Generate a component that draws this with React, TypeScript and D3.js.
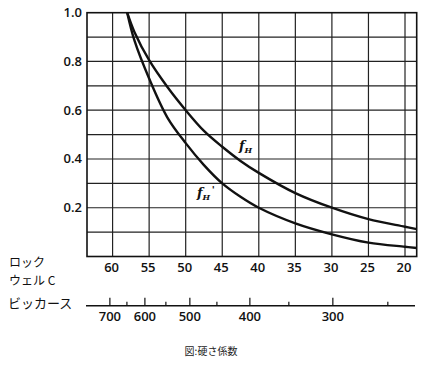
import React, { useEffect, useRef } from "react";
import * as d3 from "d3";

// Rockwell C hardness where the curves were read
const hrc = [58, 57, 55, 52.5, 50, 47.5, 45, 42.5, 40, 35, 30, 25, 20, 18.4];
// hardness factor f_H
const fH = [1.0, 0.92, 0.805, 0.695, 0.6, 0.515, 0.45, 0.392, 0.343, 0.26, 0.2, 0.153, 0.122, 0.112];
// hardness factor f_H'
const fHp = [1.0, 0.885, 0.73, 0.57, 0.465, 0.375, 0.3, 0.245, 0.2, 0.136, 0.091, 0.057, 0.04, 0.035];

const rockwellTicks = [60, 55, 50, 45, 40, 35, 30, 25, 20];
const yTicks = [1.0, 0.8, 0.6, 0.4, 0.2];
const yGrid = [0.1, 0.2, 0.3, 0.4, 0.5, 0.6, 0.7, 0.8, 0.9];

// Vickers scale and the equivalent Rockwell C value of each tick
const vickers = [700, 650, 600, 550, 500, 450, 400, 350, 300, 250];
const vickersHrc = [60.37, 58.04, 55.58, 52.71, 49.43, 45.73, 41.22, 35.89, 29.87, 22.35];
const vickersLabels = [700, 600, 500, 400, 300];

const App = () => {
  const ref = useRef<SVGSVGElement>(null);

  useEffect(() => {
    const svg = d3.select(ref.current);
    svg.selectAll("*").remove();

    const left = 87, right = 416.7, top = 12.7, bottom = 256.5;

    const x = d3.scaleLinear().domain([63.5, 18.4]).range([left, right]);
    const y = d3.scaleLinear().domain([0, 1]).range([bottom, top]);
    const v2r = d3.scaleLinear().domain(vickers).range(vickersHrc);

    const numFont = "'Open Sans', sans-serif";
    const jpFont = "'Noto Sans CJK JP', sans-serif";

    // grid
    const g = svg.append("g");
    g.selectAll(".vg")
      .data(rockwellTicks)
      .enter()
      .append("line")
      .attr("x1", (d) => x(d))
      .attr("x2", (d) => x(d))
      .attr("y1", top)
      .attr("y2", bottom)
      .attr("stroke", "#222")
      .attr("stroke-width", 1.2);

    g.selectAll(".hg")
      .data(yGrid)
      .enter()
      .append("line")
      .attr("x1", left)
      .attr("x2", right)
      .attr("y1", (d) => y(d))
      .attr("y2", (d) => y(d))
      .attr("stroke", "#222")
      .attr("stroke-width", 1.2);

    g.append("rect")
      .attr("x", left)
      .attr("y", top)
      .attr("width", right - left)
      .attr("height", bottom - top)
      .attr("fill", "none")
      .attr("stroke", "#111")
      .attr("stroke-width", 1.6);

    // curves
    const line = d3
      .line<number>()
      .x((d, i) => x(hrc[i]))
      .y((d) => y(d))
      .curve(d3.curveCatmullRom.alpha(0.5));

    [fH, fHp].forEach((s) => {
      svg
        .append("path")
        .attr("d", line(s))
        .attr("fill", "none")
        .attr("stroke", "#111")
        .attr("stroke-width", 2.4);
    });

    // y tick labels
    svg
      .selectAll(".yl")
      .data(yTicks)
      .enter()
      .append("text")
      .attr("x", 82)
      .attr("y", (d) => y(d) + 4.5)
      .attr("text-anchor", "end")
      .attr("font-family", numFont)
      .attr("font-size", 13)
      .attr("font-weight", 600)
      .attr("fill", "#111")
      .text((d) => d.toFixed(1));

    // Rockwell labels
    svg
      .selectAll(".xl")
      .data(rockwellTicks)
      .enter()
      .append("text")
      .attr("x", (d) => x(d) - 1)
      .attr("y", 272)
      .attr("text-anchor", "middle")
      .attr("font-family", numFont)
      .attr("font-size", 13)
      .attr("font-weight", 600)
      .attr("fill", "#111")
      .text((d) => d);

    svg.append("text")
      .attr("x", 9)
      .attr("y", 267)
      .attr("font-family", jpFont)
      .attr("font-size", 12)
      .attr("fill", "#111")
      .text("ロック");
    svg.append("text")
      .attr("x", 9)
      .attr("y", 285)
      .attr("font-family", jpFont)
      .attr("font-size", 12)
      .attr("fill", "#111")
      .text("ウェル C");

    // Vickers axis
    const vy = 305.7;
    svg.append("line")
      .attr("x1", 86)
      .attr("x2", 415)
      .attr("y1", vy)
      .attr("y2", vy)
      .attr("stroke", "#111")
      .attr("stroke-width", 1.4);

    svg.selectAll(".vt")
      .data(vickers)
      .enter()
      .append("line")
      .attr("x1", (d) => x(v2r(d)))
      .attr("x2", (d) => x(v2r(d)))
      .attr("y1", vy)
      .attr("y2", (d) => (d % 100 === 0 ? vy - 8 : vy - 4))
      .attr("stroke", "#111")
      .attr("stroke-width", 1.2);

    svg.selectAll(".vl")
      .data(vickersLabels)
      .enter()
      .append("text")
      .attr("x", (d) => x(v2r(d)))
      .attr("y", 320.5)
      .attr("text-anchor", "middle")
      .attr("font-family", numFont)
      .attr("font-size", 13)
      .attr("font-weight", 600)
      .attr("fill", "#111")
      .text((d) => d);

    svg.append("text")
      .attr("x", 8)
      .attr("y", 308)
      .attr("font-family", jpFont)
      .attr("font-size", 13)
      .attr("fill", "#111")
      .text("ビッカース");

    // curve labels
    const fLabel = (lx: number, ly: number, prime: boolean) => {
      const t = svg.append("text")
        .attr("x", lx)
        .attr("y", ly)
        .attr("font-family", "'DejaVu Serif', serif")
        .attr("font-style", "italic")
        .attr("font-weight", "bold")
        .attr("fill", "#111");
      t.append("tspan").attr("font-size", 13).text("f");
      t.append("tspan").attr("font-size", 8).attr("dy", 2.5).text("H");
      if (prime) t.append("tspan").attr("font-size", 10).attr("dy", -7).attr("dx", 1.5).text("'");
    };
    fLabel(239, 150, false);
    fLabel(197, 197, true);

    // caption
    svg.append("text")
      .attr("x", 211)
      .attr("y", 354.5)
      .attr("text-anchor", "middle")
      .attr("font-family", jpFont)
      .attr("font-size", 10)
      .attr("fill", "#222")
      .text("図:硬さ係数");
  }, []);

  return (
    <svg
      ref={ref}
      width={431}
      height={365}
      style={{ position: "absolute", left: 0, top: 0, background: "#fff" }}
    />
  );
};

export default App;
